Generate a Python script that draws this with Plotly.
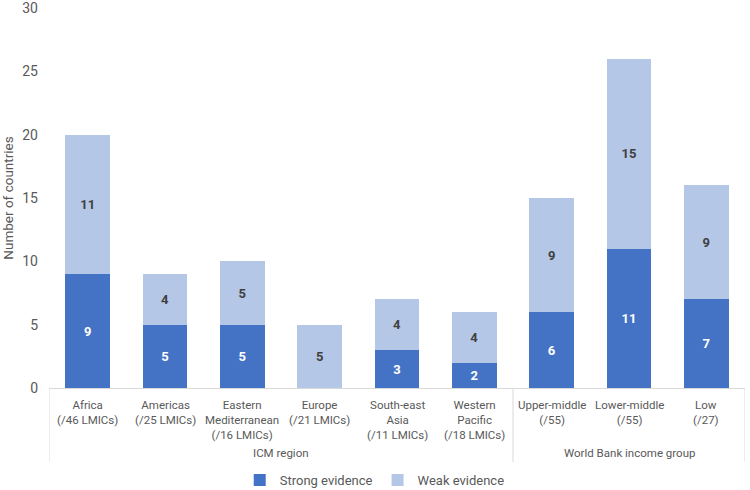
import plotly.graph_objects as go

group_names = ["ICM region", "World Bank income group"]
group_sizes = [6, 3]
categories = [
    "Africa<br>(/46 LMICs)",
    "Americas<br>(/25 LMICs)",
    "Eastern<br>Mediterranean<br>(/16 LMICs)",
    "Europe<br>(/21 LMICs)",
    "South-east<br>Asia<br>(/11 LMICs)",
    "Western<br>Pacific<br>(/18 LMICs)",
    "Upper-middle<br>(/55)",
    "Lower-middle<br>(/55)",
    "Low<br>(/27)",
]
strong = [9, 5, 5, 0, 3, 2, 6, 11, 7]
weak = [11, 4, 5, 5, 4, 4, 9, 15, 9]

FONT = "Roboto"
GREY = "#595959"
LINE = "#D9D9D9"

fig = go.Figure()
fig.add_trace(go.Bar(
    x=categories, y=strong, name="Strong evidence",
    marker=dict(color="#4472C4", line=dict(width=0)),
    text=[str(v) if v else "" for v in strong], textposition="inside",
    insidetextanchor="middle",
    textfont=dict(family=FONT, size=13, color="white", weight="bold"),
))
fig.add_trace(go.Bar(
    x=categories, y=weak, name="Weak evidence",
    marker=dict(color="#B4C7E7", line=dict(width=0)),
    text=[str(v) for v in weak], textposition="inside",
    insidetextanchor="middle",
    textfont=dict(family=FONT, size=13, color="#404040", weight="bold"),
))

# category labels
for c in categories:
    fig.add_annotation(x=c, xref="x", y=-0.021, yref="paper", yanchor="top",
                       text=c, showarrow=False, align="center",
                       font=dict(family=FONT, size=11.5, color=GREY))

# group labels and dividers
start = 0
bounds = [-0.5]
for name, n in zip(group_names, group_sizes):
    center = start + (n - 1) / 2
    fig.add_annotation(x=center, xref="x", y=-0.171, yref="paper", yanchor="middle",
                       text=name, showarrow=False,
                       font=dict(family=FONT, size=11.5, color=GREY))
    start += n
    bounds.append(start - 0.5)
for b in bounds:
    fig.add_shape(type="line", xref="x", yref="paper", x0=b, x1=b, y0=0, y1=-0.195,
                  line=dict(color=LINE, width=1))

fig.update_layout(
    barmode="stack",
    bargap=0.42,
    width=750, height=490,
    margin=dict(l=49, r=5, t=8, b=102, autoexpand=False),
    paper_bgcolor="white", plot_bgcolor="white",
    font=dict(family=FONT, size=13, color=GREY),
    uniformtext=dict(minsize=12, mode="show"),
    legend=dict(orientation="h", x=0.468, xanchor="center", y=-0.242, yanchor="middle",
                font=dict(size=13, color=GREY), traceorder="normal"),
    showlegend=True,
)
fig.update_yaxes(
    range=[0, 30], dtick=5, showgrid=False, zeroline=False, showline=False,
    tickfont=dict(size=14, color=GREY), automargin=False, ticklabeloverflow="allow",
    ticklabelstandoff=10,
    title=dict(text="Number of countries", font=dict(size=13.5, color=GREY), standoff=5),
)
fig.update_xaxes(
    type="category", automargin=False, range=[-0.5, len(categories) - 0.5],
    showline=True, linecolor=LINE, linewidth=1,
    showticklabels=False, ticks="",
)

fig.write_html("out.html", post_script="document.body.style.margin='0';",
               config={"displayModeBar": False})
